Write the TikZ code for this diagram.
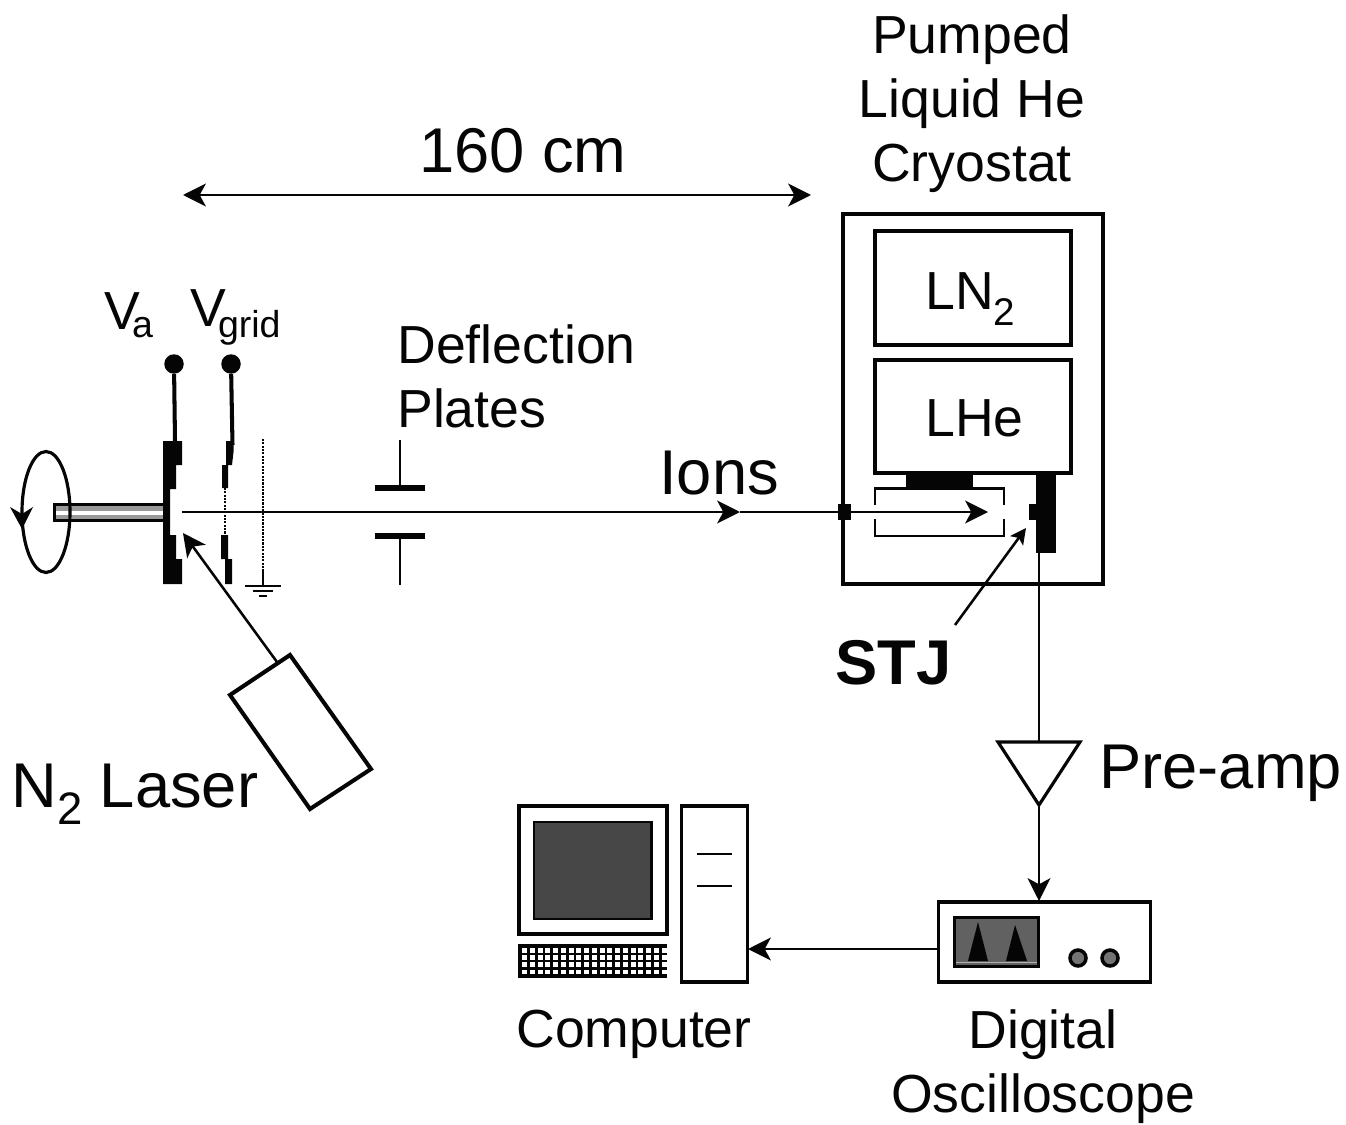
\documentclass[tikz,border=0pt]{standalone}
\usepackage{fontspec}
\setmainfont{Liberation Sans}
\usetikzlibrary{arrows.meta,shapes.geometric}
\newcommand{\smalltext}{\fontsize{30.5pt}{36.4pt}\selectfont}
\newcommand{\bigtext}{\fontsize{36pt}{42pt}\selectfont}
\newcommand{\lowsub}[1]{\raisebox{-0.28em}{\scalebox{0.72}{#1}}}
\newcommand{\vsub}[2]{\kern-0.15em\raisebox{#1}{\scalebox{0.70}{#2}}}
\definecolor{ink}{gray}{0.02}
\tikzset{
  x=0.02cm,y=-0.02cm,
  thinl/.style={draw=ink,line width=1.45pt},
  midl/.style={draw=ink,line width=1.8pt},
  heavy/.style={draw=ink,line width=2.3pt},
  solidb/.style={fill=ink,draw=none},
  head/.style={-{Stealth[length=13pt,width=13pt,inset=3.5pt]}},
  smallhead/.style={-{Stealth[length=9pt,width=9pt,inset=2pt]}},
  headb/.style={{Stealth[length=13pt,width=13pt,inset=3.5pt]}-{Stealth[length=13pt,width=13pt,inset=3.5pt]}},
  smalllab/.style={inner sep=0pt,anchor=base west,font=\smalltext,text=ink},
  biglab/.style={inner sep=0pt,anchor=base west,font=\bigtext,text=ink},
  stack/.style={inner sep=0pt,align=center,font=\smalltext,text=ink},
  dotl/.style={draw=ink,line width=1.6pt,dash pattern=on 1.2pt off 0.7pt},
}
\begin{document}
\begin{tikzpicture}
\useasboundingbox (0,0) rectangle (1346,1125);

% ---- key coordinates
\coordinate (beamstart) at (182,512);
\coordinate (beamtip) at (740,512);
\coordinate (beamport) at (844,512);
\coordinate (beamend) at (988,512);
\coordinate (dimL) at (183,195);
\coordinate (dimR) at (811,195);
\coordinate (lasermid) at (277,662);
\coordinate (lasertip) at (183,533);
\coordinate (stjfrom) at (955,625);
\coordinate (stjto) at (1026,528);
\coordinate (barout) at (1039,553);
\coordinate (ampin) at (1039,742);
\coordinate (ampout) at (1039,805);
\coordinate (scopein) at (1039,901);
\coordinate (scopeout) at (938,949);
\coordinate (towerin) at (748,949);

% ---- rotating sample rod and target
\fill[ink] (53,503) rectangle (165,522);
\fill[black!40] (56,506) rectangle (165,519);
\fill[white] (56,510.5) rectangle (165,514.5);
\node[ellipse,draw=ink,line width=1.8pt,minimum width=48*0.02cm,minimum height=121*0.02cm,inner sep=0pt] (spin) at (46,512) {};
\fill[ink] (22,529) -- (10,507) -- (22,514) -- (33,507) -- cycle;
\fill[ink] (163,441) -- (182,441) -- (182,465) -- (176,465) -- (176,489) -- (170,489)
  -- (170,535) -- (176,535) -- (176,559) -- (182,559) -- (182,584) -- (163,584) -- cycle;

% ---- Va terminal
\node[circle,fill=ink,inner sep=0pt,minimum size=19.5*0.02cm] (vaterm) at (174,364) {};
\coordinate (vafoot) at (175,441);
\draw[heavy] (vaterm) -- (vafoot);

% ---- Vgrid terminal and grid electrode
\node[circle,fill=ink,inner sep=0pt,minimum size=19.5*0.02cm] (vgterm) at (231,364) {};
\coordinate (vgfoot) at (232.5,445);
\draw[heavy] (vgterm) -- (vgfoot);
\fill[ink] (226,441) -- (233.5,441) -- (233.5,452) -- (232,465) -- (228,465) -- (228,488) -- (222,488) -- (222,465) -- (226,465) -- cycle;
\fill[ink] (221,535) -- (228,535) -- (228,559) -- (232,559) -- (232,584) -- (225,584) -- (225,559) -- (221,559) -- cycle;
\draw[dotl] (225,488) -- (225,535);

% ---- grounded grid
\coordinate (gndtop) at (263,439);
\coordinate (gndmid) at (263,570);
\coordinate (gndbase) at (263,586);
\draw[dotl] (gndtop) -- (gndmid);
\draw[thinl] (gndmid) -- (gndbase);
\draw[thinl] (245,586) -- (281,586);
\draw[thinl] (253,591) -- (273,591);
\draw[thinl] (259,596) -- (267,596);

% ---- deflection plates
\fill[ink] (375,485) rectangle (425,491);
\fill[ink] (375,533) rectangle (425,539);
\draw[thinl] (400,440) -- (400,488);
\draw[thinl] (400,536) -- (400,585);

% ---- cryostat
\node[heavy,rectangle,inner sep=0pt,minimum width=260*0.02cm,minimum height=370*0.02cm] (cryo) at (973,399) {};
\node[heavy,rectangle,inner sep=0pt,minimum width=196*0.02cm,minimum height=114*0.02cm] (ln2box) at (973,288) {};
\node[heavy,rectangle,inner sep=0pt,minimum width=196*0.02cm,minimum height=113*0.02cm] (lhebox) at (973,416.5) {};
\fill[ink] (906,473) rectangle (973,489);
\fill[ink] (1036,473) rectangle (1056,553);
\fill[ink] (1029,504) rectangle (1036,520);
\fill[ink] (838,504) rectangle (851,520);
\draw[thinl] (875,505) -- (875,488.5) -- (1004,488.5) -- (1004,505);
\draw[thinl] (875,519) -- (875,536) -- (1004,536) -- (1004,519);

% ---- beam and other connectors
\draw[thinl,head] (beamstart) -- (beamtip);
\draw[thinl] (beamtip) -- (beamport);
\draw[thinl,head] (beamport) -- (beamend);
\draw[thinl,headb] (dimL) -- (dimR);
\draw[thinl,head] (lasermid) -- (lasertip);
\draw[thinl,smallhead] (stjfrom) -- (stjto);
\draw[thinl] (barout) -- (ampin);
\draw[thinl,head] (ampout) -- (scopein);
\draw[thinl,head] (scopeout) -- (towerin);

% ---- laser
\draw[heavy,line join=miter] (290,655) -- (371,769) -- (310,809) -- (230,695) -- cycle;

% ---- pre-amp
\draw[midl,line join=miter] (998,742) -- (1080,742) -- (1039,805) -- cycle;

% ---- computer
\node[draw=ink,line width=2pt,rectangle,inner sep=0pt,minimum width=148*0.02cm,minimum height=128*0.02cm] (monitor) at (593,870) {};
\node[rectangle,draw=ink,line width=1.7pt,fill=black!72,inner sep=0pt,minimum width=117*0.02cm,minimum height=97*0.02cm] (screen) at (592.5,870.5) {};
\node[rectangle,fill=ink,inner sep=0pt,minimum width=149*0.02cm,minimum height=34*0.02cm] (keyboard) at (592.5,961) {};
\foreach \c in {0,...,18} \foreach \r in {0,...,3}
  \fill[white] (522+\c*7.75,948+\r*7.2) rectangle ++(5.2,4.8);
\node[midl,rectangle,inner sep=0pt,minimum width=66*0.02cm,minimum height=176*0.02cm] (tower) at (714.5,894) {};
\draw[thinl] (697,854) -- (732,854);
\draw[thinl] (697,886) -- (732,886);

% ---- oscilloscope
\node[midl,rectangle,inner sep=0pt,minimum width=212*0.02cm,minimum height=80*0.02cm] (scope) at (1044.5,942) {};
\node[rectangle,draw=ink,line width=1.7pt,fill=black!62,inner sep=0pt,minimum width=84*0.02cm,minimum height=49*0.02cm] (trace) at (996.5,942) {};
\fill[ink] (968,961) -- (978,922) -- (988,961) -- cycle;
\fill[ink] (1006,961) -- (1015,925) -- (1027,961) -- cycle;
\draw[black!30,line width=0.5pt] (956,962) -- (1037,962);
\node[circle,draw=ink,line width=2pt,fill=black!55,inner sep=0pt,minimum size=16*0.02cm] (knobA) at (1078,958) {};
\node[circle,draw=ink,line width=2pt,fill=black!55,inner sep=0pt,minimum size=16*0.02cm] (knobB) at (1110,958) {};

% ---- labels
\node[stack] (cryolab) at (972,104) {Pumped\\Liquid He\\Cryostat};
\node[biglab,anchor=base] (dist) at (523,173) {160 cm};
\node[smalllab] (ln2lab) at (925,310) {LN\lowsub{2}};
\node[smalllab] (lhelab) at (925,436) {LHe};
\node[smalllab] (valab) at (104,330) {V\vsub{-0.14em}{a}};
\node[smalllab] (vglab) at (190,327) {V\vsub{-0.2em}{grid}};
\node[stack,align=left,anchor=west] (deflab) at (397,376) {Deflection\\Plates};
\node[biglab] (ionlab) at (659,494) {Ions};
\node[biglab,font=\bigtext\bfseries] (stjlab) at (835,684) {STJ};
\node[biglab] (amplab) at (1099,788) {Pre-amp};
\node[biglab] (laserlab) at (11,807) {N\lowsub{2} Laser};
\node[smalllab,anchor=base] (complab) at (634,1047) {Computer};
\node[stack] (scopelab) at (1043,1067) {Digital\\Oscilloscope};
\end{tikzpicture}
\end{document}
